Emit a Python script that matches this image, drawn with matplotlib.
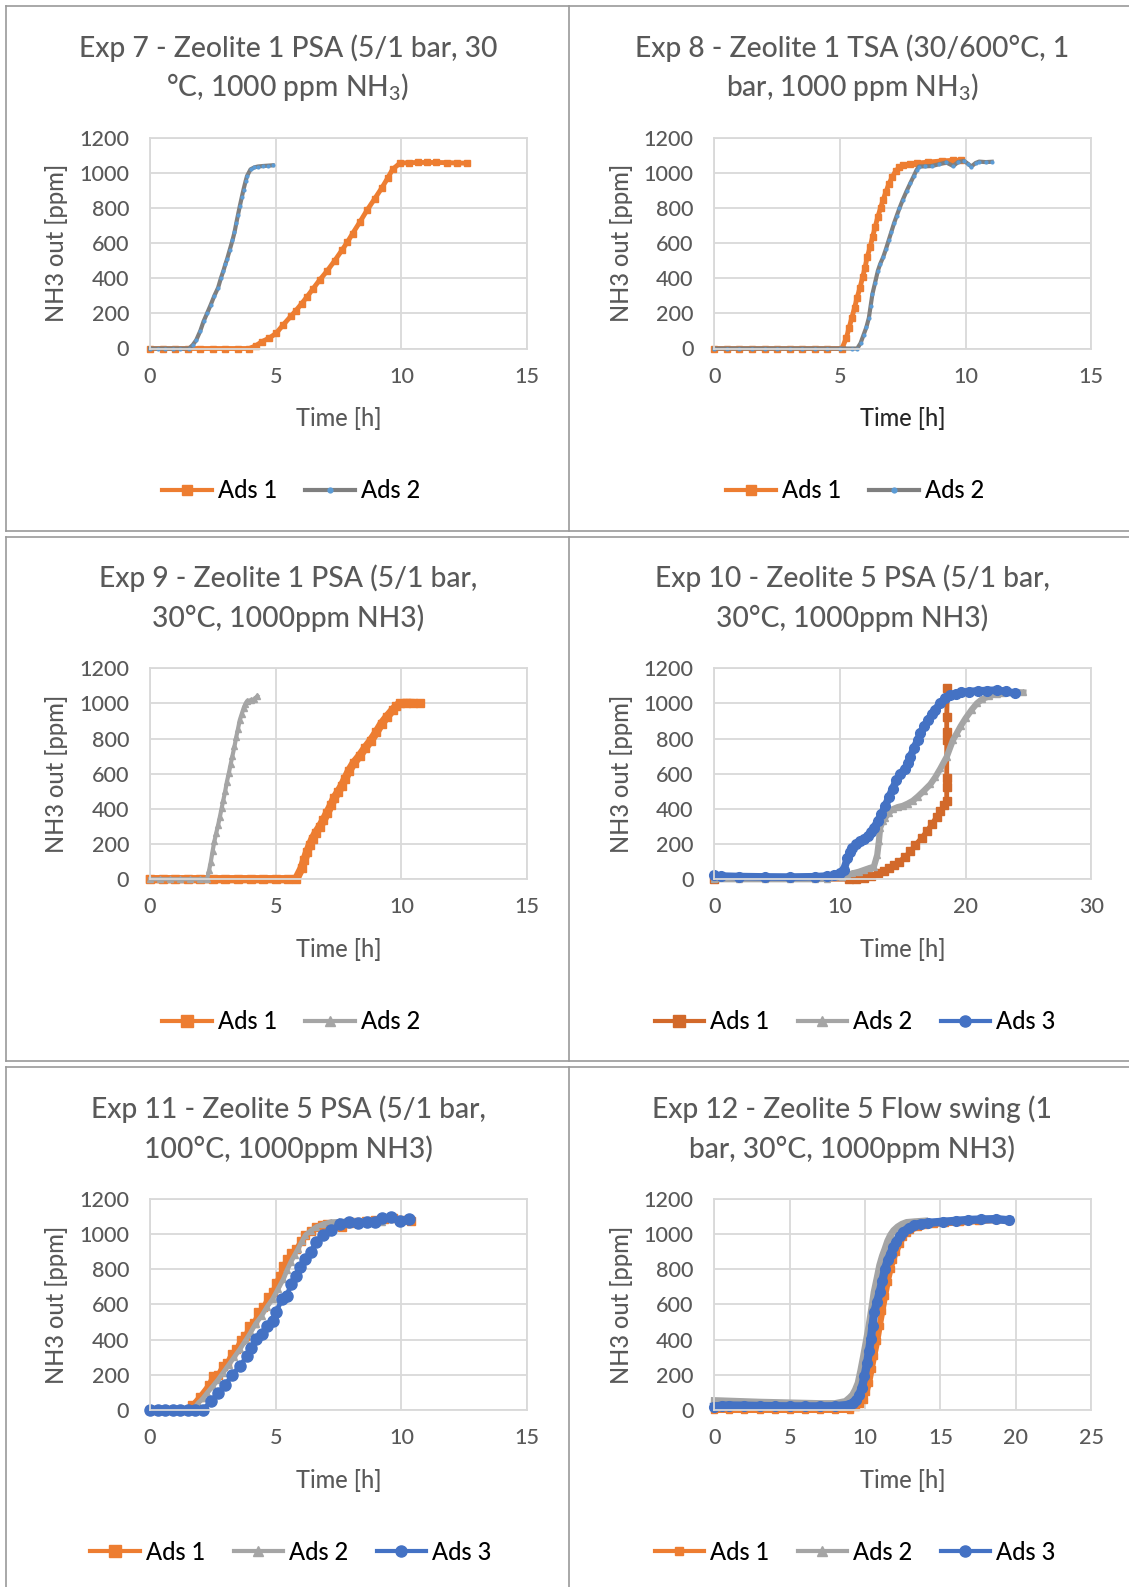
import matplotlib as mpl
mpl.use('Agg')
import matplotlib.pyplot as plt
from matplotlib.lines import Line2D

plt.rcParams['font.family'] = ['Lato', 'DejaVu Sans']
plt.rcParams['font.weight'] = 'medium'
plt.rcParams['mathtext.default'] = 'regular'

ORANGE = '#ED7D31'
DARK_ORANGE = '#D2692A'
GRAY = '#7F7F7F'
LIGHT_GRAY = '#A5A5A5'
BLUE = '#4472C4'
DOT_BLUE = '#5B9BD5'
TEXT = '#595959'
GRID = '#D9D9D9'
BORDER = '#9A9A9A'

W, H = 1129, 1587

# ---- Exp 7 ----
exp7_ads1_t = [0, 0.5, 1, 1.5, 2, 2.5, 3, 3.5, 3.95, 4.2, 4.44, 4.75, 5.02, 5.3, 5.6, 5.8, 6.03, 6.25,
               6.47, 6.75, 7.05, 7.35, 7.63, 7.85, 8.06, 8.35, 8.64, 8.93, 9.22, 9.45, 9.65, 9.94, 10.3,
               10.67, 11.0, 11.39, 11.8, 12.2, 12.59]
exp7_ads1_y = [0, 0, 0, 0, 0, 0, 0, 0, 0, 15, 38, 60, 87, 135, 183, 215, 255, 295,
               337, 390, 442, 500, 558, 605, 654, 720, 788, 850, 913, 968, 1019, 1054, 1057,
               1058, 1058, 1058, 1057, 1055, 1054]
exp7_ads2_t = [0, 0.3, 0.6, 0.9, 1.2, 1.55, 1.7, 1.84, 2.0, 2.13, 2.27, 2.42, 2.56, 2.71, 2.82, 2.92,
               3.0, 3.07, 3.17, 3.28, 3.36, 3.43, 3.5, 3.57, 3.65, 3.72, 3.8, 3.86, 4.0, 4.15, 4.29,
               4.5, 4.7, 4.88]
exp7_ads2_y = [0, 0, 0, 0, 0, 0, 20, 48, 100, 154, 200, 250, 300, 346, 400, 442,
               480, 510, 560, 615, 660, 711, 760, 808, 860, 904, 950, 981, 1019, 1030, 1035,
               1038, 1040, 1042]

# ---- Exp 8 ----
exp8_ads1_t = [0, 0.5, 1, 1.5, 2, 2.5, 3, 3.5, 4, 4.5, 5.08, 5.25, 5.36, 5.47, 5.58, 5.68, 5.8, 5.9,
               6.0, 6.08, 6.2, 6.3, 6.4, 6.51, 6.62, 6.72, 6.83, 6.94, 7.08, 7.22, 7.36, 7.51, 7.8,
               8.08, 8.5, 9.08, 9.5, 9.8]
exp8_ads1_y = [0, 0, 0, 0, 0, 0, 0, 0, 0, 0, 0, 58, 115, 173, 230, 288, 346, 404,
               460, 519, 575, 635, 690, 750, 800, 846, 890, 933, 975, 1010, 1030, 1042, 1048,
               1054, 1060, 1067, 1070, 1071]
exp8_ads2_t = [0, 0.5, 1, 1.5, 2, 2.5, 3, 3.5, 4, 4.5, 5, 5.5, 5.69, 5.82, 5.94, 6.05, 6.15, 6.22,
               6.29, 6.4, 6.51, 6.6, 6.72, 6.83, 6.94, 7.05, 7.15, 7.26, 7.37, 7.5, 7.65, 7.8, 7.94,
               8.05, 8.15, 8.4, 8.66, 8.95, 9.23, 9.51, 9.7, 9.94, 10.1, 10.23, 10.4, 10.54, 10.8, 11.04]
exp8_ads2_y = [0, 0, 0, 0, 0, 0, 0, 0, 0, 0, 0, 0, 0, 30, 77, 120, 173, 240,
               308, 375, 442, 480, 519, 565, 615, 665, 711, 755, 798, 845, 894, 940, 981,
               1015, 1035, 1036, 1038, 1048, 1058, 1038, 1060, 1067, 1050, 1035, 1055, 1063, 1060, 1062]

# ---- Exp 9 ----
exp9_ads1_t = [0, 0.5, 1, 1.5, 2, 2.5, 3, 3.5, 4, 4.5, 5, 5.5, 5.81, 6.03, 6.14, 6.25, 6.36, 6.47,
               6.6, 6.75, 6.9, 7.04, 7.2, 7.33, 7.48, 7.62, 7.76, 7.91, 8.1, 8.34, 8.55, 8.78, 9.0,
               9.21, 9.43, 9.65, 9.8, 9.94, 10.2, 10.45, 10.73]
exp9_ads1_y = [0, 0, 0, 0, 0, 0, 0, 0, 0, 0, 0, 0, 0, 62, 110, 154, 195, 231,
               265, 298, 335, 375, 420, 462, 495, 529, 570, 615, 660, 702, 745, 788, 835,
               885, 925, 962, 985, 1000, 1003, 1002, 1000]
exp9_ads2_t = [0, 0.4, 0.8, 1.2, 1.6, 2.0, 2.27, 2.35, 2.42, 2.49, 2.56, 2.63, 2.71, 2.78, 2.85,
               2.92, 2.99, 3.06, 3.14, 3.21, 3.28, 3.36, 3.43, 3.5, 3.57, 3.65, 3.72, 3.79, 3.86,
               4.0, 4.15, 4.27]
exp9_ads2_y = [0, 0, 0, 0, 0, 0, 0, 50, 100, 160, 215, 260, 308, 355, 404,
               452, 500, 555, 606, 655, 702, 755, 808, 855, 904, 940, 971, 995, 1013,
               1018, 1023, 1042]

# ---- Exp 10 ----
exp10_ads1_t = [0, 10.7, 11.3, 11.9, 12.5, 13.0, 13.5, 13.9, 14.3, 14.7, 15.2,
                15.6, 16.0, 16.5, 16.9, 17.3, 17.7, 18.0, 18.3, 18.5, 18.5, 18.5, 18.5, 18.5,
                18.5, 18.55]
exp10_ads1_y = [0, 0, 2, 5, 18, 33, 48, 62, 80, 100, 128,
                158, 195, 235, 272, 312, 355, 388, 420, 446, 523, 575, 790, 840,
                925, 1090]
exp10_ads2_t = [0, 2, 4, 6, 8, 9, 10.2, 10.6, 11.0, 11.5, 11.9, 12.3, 12.7, 12.97, 13.1, 13.2,
                13.4, 13.6, 13.9, 14.2, 14.6, 15.0, 15.4, 15.8, 16.2, 16.7, 17.2, 17.6, 18.0,
                18.5, 19.0, 19.3, 19.6, 20.0, 20.5, 20.9, 21.3, 21.9, 22.5, 23.0, 23.6, 24.1, 24.6]
exp10_ads2_y = [0, 0, 0, 0, 0, 2, 13, 22, 33, 42, 52, 62, 71, 138, 215, 292,
                330, 350, 378, 398, 410, 417, 430, 446, 470, 504, 540, 581, 630,
                696, 792, 830, 869, 915, 965, 1000, 1023, 1042, 1052, 1058, 1062, 1064, 1062]
exp10_ads3_t = [0, 0.5, 2, 4, 6, 8, 9, 9.5, 10.0, 10.3, 10.6, 10.8, 11.0, 11.3, 11.6, 11.9, 12.2,
                12.5, 12.7, 13.0, 13.3, 13.6, 13.9, 14.2, 14.5, 14.8, 15.2, 15.4, 15.6, 15.9, 16.2,
                16.4, 16.7, 17.0, 17.3, 17.6, 18.0, 18.4, 18.75, 19.2, 19.6, 20.3, 21.0, 21.7,
                22.5, 23.2, 23.9]
exp10_ads3_y = [22, 18, 15, 13, 12, 14, 18, 22, 33, 52, 119, 155, 177, 198, 215, 230, 244,
                268, 292, 330, 369, 415, 465, 515, 562, 600, 629, 660, 696, 745, 792,
                830, 869, 905, 937, 965, 1004, 1030, 1046, 1056, 1062, 1067, 1071, 1073,
                1075, 1068, 1058]

# ---- Exp 11 ----
exp11_ads1_t = [0, 0.3, 0.6, 0.9, 1.2, 1.48, 1.69, 1.98, 2.34, 2.5, 2.71, 2.9, 3.07, 3.25, 3.43,
                3.6, 3.79, 3.95, 4.15, 4.3, 4.51, 4.7, 4.88, 5.0, 5.17, 5.3, 5.46, 5.6, 5.82, 6.0,
                6.18, 6.4, 6.61, 6.85, 7.05, 7.3, 7.63, 7.9, 8.21, 8.6, 8.93, 9.3, 9.65, 10.0, 10.38]
exp11_ads1_y = [0, 0, 0, 0, 0, 0, 29, 76, 143, 190, 201, 250, 268, 320, 344,
                395, 420, 480, 497, 555, 583, 640, 669, 720, 764, 820, 860, 890, 917, 960,
                994, 1020, 1041, 1050, 1055, 1045, 1041, 1062, 1070, 1075, 1080, 1085, 1089, 1082, 1074]
exp11_ads2_t = [0, 0.4, 0.8, 1.2, 1.7, 1.91, 2.1, 2.27, 2.5, 2.71, 2.9, 3.14, 3.35, 3.57, 3.8, 4.0,
                4.2, 4.44, 4.65, 4.88, 5.1, 5.31, 5.45, 5.6, 5.75, 5.89, 6.05, 6.18, 6.4, 6.61, 6.9,
                7.19, 7.5, 7.77, 8.1, 8.49, 8.85, 9.21]
exp11_ads2_y = [0, 0, 0, 0, 0, 38, 65, 96, 135, 172, 210, 258, 300, 344, 395, 440,
                490, 535, 585, 631, 690, 745, 795, 841, 880, 917, 960, 994, 1020, 1041, 1058,
                1070, 1072, 1074, 1074, 1074, 1070, 1066]
exp11_ads3_t = [0, 0.3, 0.6, 0.9, 1.2, 1.5, 1.8, 2.1, 2.42, 2.71, 3.0, 3.28, 3.57, 3.86, 4.0, 4.23,
                4.44, 4.66, 4.88, 5.02, 5.24, 5.46, 5.6, 5.82, 5.96, 6.18, 6.4, 6.61, 6.9, 7.19,
                7.55, 7.92, 8.28, 8.64, 8.93, 9.21, 9.57, 9.94, 10.3]
exp11_ads3_y = [0, 0, 0, 0, 0, 0, 0, 0, 48, 96, 143, 201, 248, 306, 354, 401,
                430, 478, 506, 554, 631, 650, 717, 764, 812, 860, 898, 955, 994, 1022,
                1060, 1070, 1064, 1070, 1070, 1089, 1099, 1076, 1085]

# ---- Exp 12 ----
exp12_ads1_t = [0, 1, 2, 3, 4, 5, 6, 7, 8, 9, 9.42, 9.65, 9.9, 10.08, 10.26, 10.43, 10.6, 10.8,
                10.97, 11.15, 11.33, 11.5, 11.69, 11.87, 12.05, 12.3, 12.52, 12.75, 13.0, 13.5,
                13.96, 14.6, 15.3, 16.3, 17.5, 18.7, 19.56]
exp12_ads1_y = [0, 0, 0, 0, 0, 0, 0, 0, 0, 0, 19, 35, 57, 100, 153, 230, 306, 390,
                478, 565, 650, 730, 803, 855, 898, 945, 984, 1008, 1022, 1040,
                1051, 1058, 1062, 1066, 1074, 1080, 1076]
exp12_ads2_t = [0, 1, 2, 3, 4, 5, 6, 7, 8, 8.7, 9.0, 9.18, 9.36, 9.54, 9.72, 9.9, 10.08, 10.26,
                10.43, 10.6, 10.8, 10.97, 11.15, 11.33, 11.5, 11.69, 11.9, 12.17, 12.45, 12.76,
                13.3, 13.96]
exp12_ads2_y = [53, 50, 47, 44, 42, 40, 38, 36, 36, 48, 70, 86, 115, 153, 225, 306, 390, 478,
                570, 669, 750, 822, 875, 917, 960, 994, 1020, 1041, 1056, 1066,
                1070, 1074]
exp12_ads3_t = [0, 0.5, 1, 2, 3, 4, 5, 6, 7, 8, 8.95, 9.2, 9.42, 9.6, 9.78, 9.96, 10.14, 10.26,
                10.38, 10.5, 10.6, 10.8, 10.97, 11.15, 11.33, 11.5, 11.69, 11.87, 12.05, 12.3,
                12.52, 12.9, 13.24, 13.7, 14.2, 15.15, 16.0, 16.8, 17.7, 18.7, 19.56]
exp12_ads3_y = [19, 24, 25, 24, 22, 21, 20, 20, 20, 21, 29, 40, 57, 85, 124, 190, 268, 335,
                401, 480, 554, 615, 669, 735, 803, 850, 889, 925, 956, 990,
                1013, 1035, 1051, 1060, 1064, 1070, 1075, 1080, 1083, 1085, 1078]

# style per series: (color, line width, marker, marker size, marker face)
S_ORANGE = (ORANGE, 3.5, 's', 4.5, ORANGE)
S_GRAY_DOT = (GRAY, 3.0, 'o', 3.0, DOT_BLUE)

panels = [
    dict(col=0, row=0, title=['Exp 7 - Zeolite 1 PSA (5/1 bar, 30', '°C, 1000 ppm NH$_3$)'],
         xmax=15, xstep=5, xl_color=TEXT,
         series=[('Ads 1', exp7_ads1_t, exp7_ads1_y, S_ORANGE),
                 ('Ads 2', exp7_ads2_t, exp7_ads2_y, S_GRAY_DOT)]),
    dict(col=1, row=0, title=['Exp 8 - Zeolite 1 TSA (30/600°C, 1', 'bar, 1000 ppm NH$_3$)'],
         xmax=15, xstep=5, xl_color='#262626',
         series=[('Ads 1', exp8_ads1_t, exp8_ads1_y, S_ORANGE),
                 ('Ads 2', exp8_ads2_t, exp8_ads2_y, S_GRAY_DOT)]),
    dict(col=0, row=1, title=['Exp 9 - Zeolite 1 PSA (5/1 bar,', '30°C, 1000ppm NH3)'],
         xmax=15, xstep=5, xl_color=TEXT,
         series=[('Ads 1', exp9_ads1_t, exp9_ads1_y, (ORANGE, 6, 's', 6, ORANGE)),
                 ('Ads 2', exp9_ads2_t, exp9_ads2_y, (LIGHT_GRAY, 3, '^', 5, LIGHT_GRAY))]),
    dict(col=1, row=1, title=['Exp 10 - Zeolite 5 PSA (5/1 bar,', '30°C, 1000ppm NH3)'],
         xmax=30, xstep=10, xl_color=TEXT,
         series=[('Ads 1', exp10_ads1_t, exp10_ads1_y, (DARK_ORANGE, 3.5, 's', 6, DARK_ORANGE)),
                 ('Ads 2', exp10_ads2_t, exp10_ads2_y, (LIGHT_GRAY, 4.5, '^', 5, LIGHT_GRAY)),
                 ('Ads 3', exp10_ads3_t, exp10_ads3_y, (BLUE, 5.5, 'o', 7, BLUE))]),
    dict(col=0, row=2, title=['Exp 11 - Zeolite 5 PSA (5/1 bar,', '100°C, 1000ppm NH3)'],
         xmax=15, xstep=5, xl_color=TEXT,
         series=[('Ads 1', exp11_ads1_t, exp11_ads1_y, (ORANGE, 3.5, 's', 6, ORANGE)),
                 ('Ads 2', exp11_ads2_t, exp11_ads2_y, (LIGHT_GRAY, 3.5, '^', 5, LIGHT_GRAY)),
                 ('Ads 3', exp11_ads3_t, exp11_ads3_y, (BLUE, 3.5, 'o', 8, BLUE))]),
    dict(col=1, row=2, title=['Exp 12 - Zeolite 5 Flow swing (1', 'bar, 30°C, 1000ppm NH3)'],
         xmax=25, xstep=5, xl_color=TEXT,
         series=[('Ads 1', exp12_ads1_t, exp12_ads1_y, (ORANGE, 4.5, 's', 4, ORANGE)),
                 ('Ads 2', exp12_ads2_t, exp12_ads2_y, (LIGHT_GRAY, 5, '^', 5, LIGHT_GRAY)),
                 ('Ads 3', exp12_ads3_t, exp12_ads3_y, (BLUE, 6, 'o', 7, BLUE))]),
]

ROW_OFF = [0, 530.7, 1061.4]
AX_LEFT = [150, 714.3]
AX_RIGHT = [527.1, 1091.2]
TITLE_X = [288, 852]
LEG_X = [291, 855]


def fx(px):
    return px / W


def fy(py):
    return 1 - py / H


fig = plt.figure(figsize=(W / 100, H / 100), dpi=100)

# cell borders
def hline(y, x0=5.5, x1=W):
    fig.add_artist(Line2D([fx(x0), fx(x1)], [fy(y), fy(y)], color=BORDER, lw=1.2))


def vline(x, y0, y1):
    fig.add_artist(Line2D([fx(x), fx(x)], [fy(y0), fy(y1)], color=BORDER, lw=1.2))


for top, bot in [(6, 531), (537, 1061), (1067, H + 2)]:
    hline(top)
    hline(bot)
    vline(5.5, top, bot)
    vline(569, top, bot)

for p in panels:
    c, r = p['col'], p['row']
    off = ROW_OFF[r]
    top, bot = 137.5 + off, 348.5 + off
    ax = fig.add_axes([fx(AX_LEFT[c]), fy(bot), fx(AX_RIGHT[c] - AX_LEFT[c]), (bot - top) / H])
    handles = []
    for label, t, y, (color, lw, mk, ms, mfc) in p['series']:
        small = mfc != color
        ax.plot(t, y, color=color, lw=lw, marker=mk, ms=ms, mfc=mfc, mec=mfc,
                mew=0 if small else 1, clip_on=False, solid_joinstyle='round')
        handles.append(Line2D([], [], color=color, lw=3, marker=mk,
                              ms=4.5 if small else min(ms + 2, 8), mfc=mfc, mec=mfc,
                              mew=0 if small else 1))
    ax.set_xlim(0, p['xmax'])
    ax.set_ylim(0, 1200)
    ax.set_xticks(range(0, p['xmax'] + 1, p['xstep']))
    ax.set_yticks(range(0, 1201, 200))
    ax.grid(True, color=GRID, lw=1.3)
    ax.set_axisbelow(True)
    for s in ax.spines.values():
        s.set_color(GRID)
        s.set_linewidth(1.3)
    ax.tick_params(length=0, labelsize=15.5, colors=TEXT)
    ax.tick_params(axis='x', pad=13)
    ax.tick_params(axis='y', pad=15)

    # title, axis titles
    for i, line in enumerate(p['title']):
        fig.text(fx(TITLE_X[c]), fy([56.5, 96.3][i] + off), line, ha='center', va='baseline',
                 fontsize=20.3, color=TEXT)
    fig.text(fx((AX_LEFT[c] + AX_RIGHT[c]) / 2), fy(418.7 + off), 'Time [h]', ha='center',
             va='center', fontsize=17, color=p['xl_color'])
    fig.text(fx(AX_LEFT[c] - 93), fy((top + bot) / 2), 'NH3 out [ppm]', ha='center',
             va='center', rotation=90, fontsize=17, color=TEXT)

    ax.legend(handles, [s[0] for s in p['series']], loc='center',
              bbox_to_anchor=(fx(LEG_X[c]), fy(490.6 + off)), bbox_transform=fig.transFigure,
              ncol=len(handles), frameon=False, fontsize=17, handlelength=2.1,
              handletextpad=0.25, columnspacing=1.2, borderpad=0, labelcolor='black')

fig.savefig('out.png', dpi=100, facecolor='white')
